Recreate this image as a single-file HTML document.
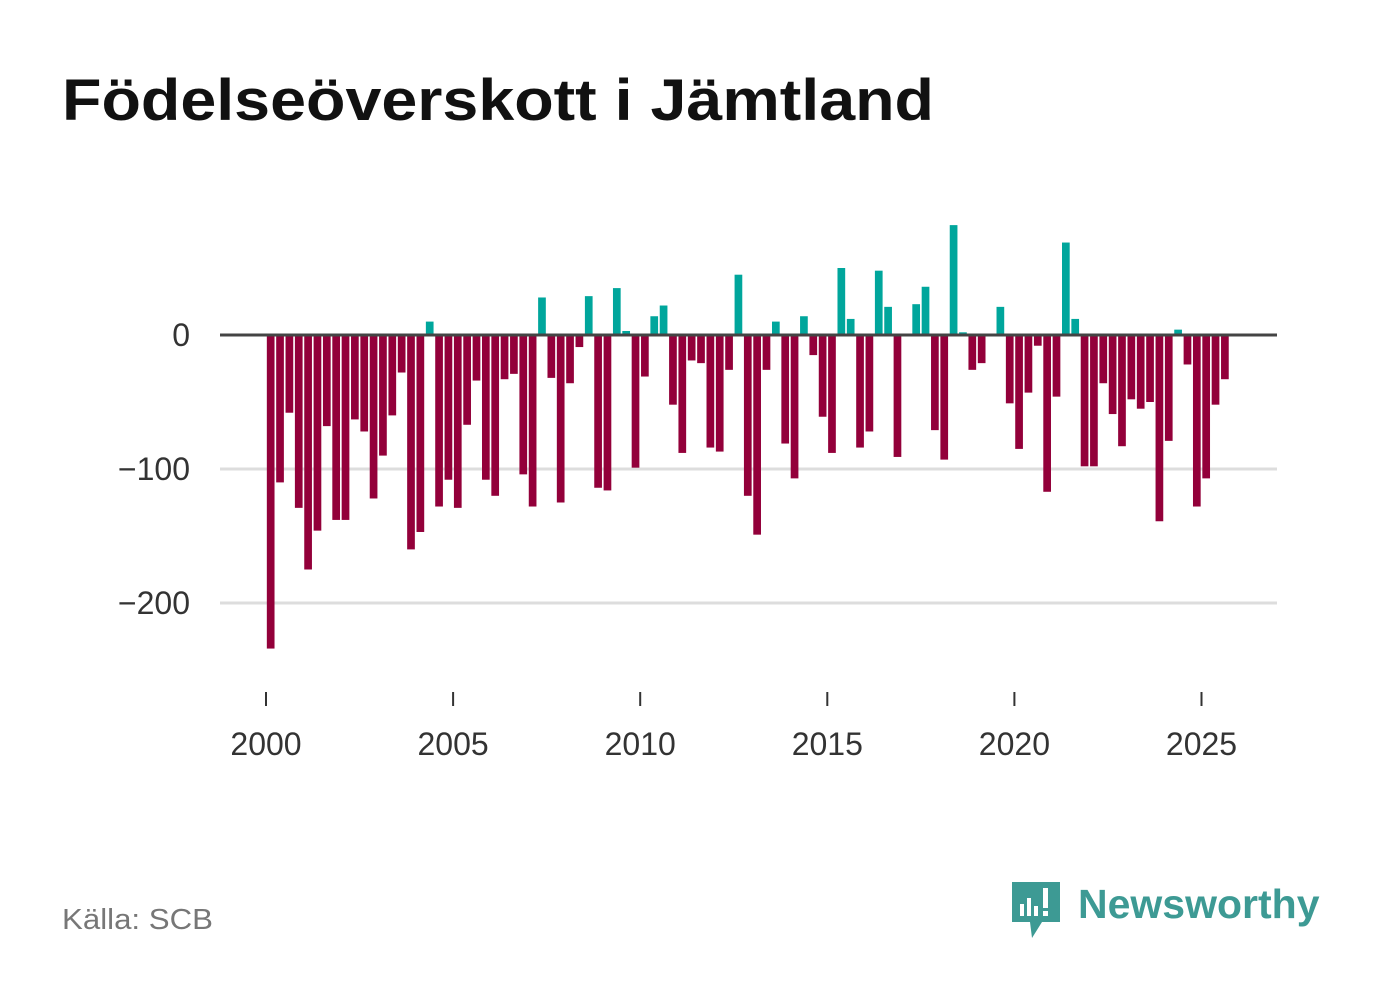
<!DOCTYPE html>
<html><head><meta charset="utf-8">
<style>
body{margin:0;background:#fff;width:1382px;height:999px;overflow:hidden;font-family:"Liberation Sans",sans-serif;}
svg{position:absolute;left:0;top:0}
</style></head>
<body>
<svg id="chart" width="1382" height="999">
<text x="62" y="120" font-size="58" font-weight="bold" fill="#111" textLength="872" lengthAdjust="spacingAndGlyphs" font-family="Liberation Sans, sans-serif">Födelseöverskott i Jämtland</text>
<g id="grid"></g>
<g id="bars"></g>
<g id="axes"></g>
<text x="62" y="929" font-size="29" fill="#777" textLength="151" lengthAdjust="spacingAndGlyphs">Källa: SCB</text>
<g>
<path d="M1012 882 h48 v40 h-18 l-10 16 l-2 -16 h-18 z" fill="#3d9a94"/>
<rect x="1020" y="904" width="4" height="12" fill="#fff"/>
<rect x="1027" y="898" width="4" height="18" fill="#fff"/>
<rect x="1034" y="906" width="4" height="10" fill="#fff"/>
<rect x="1043" y="888" width="5" height="20" fill="#fff"/>
<rect x="1043" y="911" width="5" height="5" fill="#fff"/>
<text x="1078" y="918" font-size="41" font-weight="bold" fill="#3d9a94">Newsworthy</text>
</g>
</svg>
<script>
const values = [-234,-110,-58,-129,-175,-146,-68,-138,-138,-63,-72,-122,-90,-60,-28,-160,-147,10,-128,-108,-129,-67,-34,-108,-120,-33,-29,-104,-128,28,-32,-125,-36,-9,29,-114,-116,35,3,-99,-31,14,22,-52,-88,-19,-21,-84,-87,-26,45,-120,-149,-26,10,-81,-107,14,-15,-61,-88,50,12,-84,-72,48,21,-91,0,23,36,-71,-93,82,2,-26,-21,0,21,-51,-85,-43,-8,-117,-46,69,12,-98,-98,-36,-59,-83,-48,-55,-50,-139,-79,4,-22,-128,-107,-52,-33];
const yTicks = [0,-100,-200];
const yTickLabels = ["0","\u2212100","\u2212200"];
const xTicks = [2000,2005,2010,2015,2020,2025];
const startYear = 2000;

const NS="http://www.w3.org/2000/svg";
const X0=266, PXY=37.42, Y0=335, PXV=1.34;
const xScale = y => X0 + (y-2000)*PXY;
const yScale = v => Y0 - v*PXV;
function mk(tag, attrs, parent){const e=document.createElementNS(NS,tag);for(const k in attrs)e.setAttribute(k,attrs[k]);parent.appendChild(e);return e;}
const grid=document.getElementById('grid'), bars=document.getElementById('bars'), axes=document.getElementById('axes');
yTicks.forEach((t,i)=>{
  if(t!==0){const l=mk('line',{x1:220,x2:1277,y1:yScale(t),y2:yScale(t),stroke:'#dddddd','stroke-width':3},grid);
  
  }
  const tx=mk('text',{x:190,y:yScale(t)+11,'text-anchor':'end','font-size':32,fill:'#333'},axes);
  tx.textContent=yTickLabels[i];
  
  
});
const bw=7.7;
values.forEach((v,i)=>{
  const cx=xScale(startYear+(i+0.5)/4);
  const y1=yScale(Math.max(v,0)), y2=yScale(Math.min(v,0));
  const r=mk('rect',{x:cx-bw/2,y:y1,width:bw,height:Math.max(y2-y1,0),fill:v>=0?'#00a69c':'#93003a'},bars);
  
  
});
const zl=mk('line',{x1:220,x2:1277,y1:Y0,y2:Y0,stroke:'#444','stroke-width':3},axes);


xTicks.forEach(t=>{
  const x=xScale(t);
  const tk=mk('line',{x1:x,x2:x,y1:692,y2:706,stroke:'#333','stroke-width':2},axes);
  
  
  const tx=mk('text',{x:x,y:755,'text-anchor':'middle','font-size':32,fill:'#333'},axes);
  tx.textContent=t;
  
  
});
</script>
</body></html>
